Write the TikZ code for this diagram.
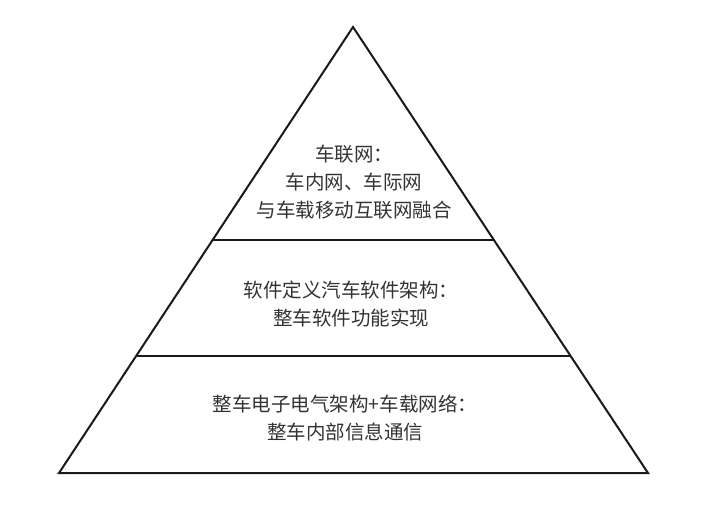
\documentclass[tikz,border=0pt]{standalone}
\usepackage{fontspec}
\newfontfamily\cjk{Noto Sans CJK SC}
\usetikzlibrary{calc}
\tikzset{
  edge/.style={line width=2pt, black!90, line join=miter},
  layertext/.style={font=\cjk\fontsize{19.5}{28}\selectfont, text=black!80, align=center, inner sep=0pt}
}
\begin{document}
\begin{tikzpicture}[x=1pt,y=-1pt]
\useasboundingbox (0,0) rectangle (703,506);
\coordinate (apex) at (353,27);
\coordinate (bl) at (59,473);
\coordinate (br) at (648,473);
\draw[edge] (apex) -- (bl) -- (br) -- cycle;
\coordinate (l1) at ($(apex)!0.4776!(bl)$);
\coordinate (r1) at ($(apex)!0.4776!(br)$);
\coordinate (l2) at ($(apex)!0.7377!(bl)$);
\coordinate (r2) at ($(apex)!0.7377!(br)$);
\draw[edge] (l1) -- (r1);
\draw[edge] (l2) -- (r2);
\node[layertext] (top) at (354,182) {车联网：\\车内网、车际网\\与车载移动互联网融合};
\node[layertext] (mid) at (351,304) {软件定义汽车软件架构：\\整车软件功能实现};
\node[layertext] (bot) at (345,418) {整车电子电气架构+车载网络：\\整车内部信息通信};
\end{tikzpicture}
\end{document}
